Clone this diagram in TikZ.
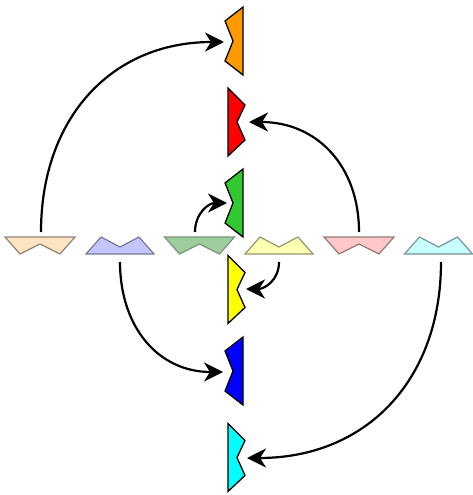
\documentclass[tikz,border=0pt]{standalone}
\usetikzlibrary{arrows.meta}
\definecolor{pOr}{RGB}{255,228,196}\definecolor{dOr}{RGB}{150,130,110}
\definecolor{pBl}{RGB}{197,197,255}\definecolor{dBl}{RGB}{120,120,150}
\definecolor{pGr}{RGB}{160,205,160}\definecolor{dGr}{RGB}{120,150,120}
\definecolor{pYe}{RGB}{255,255,180}\definecolor{dYe}{RGB}{150,150,110}
\definecolor{pRe}{RGB}{255,200,200}\definecolor{dRe}{RGB}{150,120,120}
\definecolor{pCy}{RGB}{200,255,255}\definecolor{dCy}{RGB}{120,150,150}
\definecolor{vOr}{RGB}{255,153,0}
\definecolor{vRe}{RGB}{255,0,0}
\definecolor{vGr}{RGB}{50,200,50}
\definecolor{vYe}{RGB}{255,255,0}
\definecolor{vBl}{RGB}{0,0,255}
\definecolor{vCy}{RGB}{0,255,255}
\tikzset{
  pale/.style={line width=1.2pt,line join=miter},
  vivid/.style={draw=black,line width=1.3pt,line join=miter},
  conn/.style={line width=2.2pt,looseness=1.1,-{Stealth[length=19pt,width=19pt,inset=6pt]}},
}
\newcommand{\hA}[3]{% long top, notch bottom: cx, fill, draw
  \filldraw[pale,fill=#2,draw=#3] (#1-35,237) -- (#1-20,254) -- (#1,244) -- (#1+20,254) -- (#1+35,237) -- cycle;}
\newcommand{\hB}[3]{% long bottom, notch top
  \filldraw[pale,fill=#2,draw=#3] (#1-34,254) -- (#1-19,237) -- (#1,247) -- (#1+19,237) -- (#1+34,254) -- cycle;}
\newcommand{\vC}[2]{% long right, notch left
  \filldraw[vivid,fill=#2] (243,#1-34) -- (225,#1-20) -- (233,#1) -- (225,#1+20) -- (243,#1+34) -- cycle;}
\newcommand{\vD}[2]{% long left, notch right
  \filldraw[vivid,fill=#2] (228,#1-34) -- (245,#1-17) -- (237,#1) -- (245,#1+18) -- (228,#1+34) -- cycle;}
\begin{document}
\begin{tikzpicture}[x=1pt,y=-1pt]
\useasboundingbox (0,0) rectangle (472,495);
% horizontal pale pieces
\hA{40}{pOr}{dOr}
\hB{120}{pBl}{dBl}
\hA{199.5}{pGr}{dGr}
\hB{279}{pYe}{dYe}
\hA{359}{pRe}{dRe}
\hB{438.5}{pCy}{dCy}
% vertical vivid pieces
\vC{41}{vOr}
\vD{122}{vRe}
\vC{203}{vGr}
\vD{289.5}{vYe}
\vC{371}{vBl}
\vD{457.5}{vCy}
% connector endpoints
\coordinate (sOr) at (41,232);   \coordinate (tOr) at (224,42);
\coordinate (sBl) at (120,262);  \coordinate (tBl) at (223,372);
\coordinate (sGr) at (195,232);  \coordinate (tGr) at (227,203);
\coordinate (sYe) at (279,262);  \coordinate (tYe) at (246,289);
\coordinate (sRe) at (359,232);  \coordinate (tRe) at (249,122);
\coordinate (sCy) at (441,262);  \coordinate (tCy) at (247,458);
\draw[conn] (sOr) to[out=90,in=180] (tOr);
\draw[conn] (sBl) to[out=-90,in=180] (tBl);
\draw[conn] (sGr) to[out=90,in=180] (tGr);
\draw[conn] (sYe) to[out=-90,in=0] (tYe);
\draw[conn] (sRe) to[out=90,in=0] (tRe);
\draw[conn] (sCy) to[out=-90,in=0] (tCy);
\end{tikzpicture}
\end{document}
